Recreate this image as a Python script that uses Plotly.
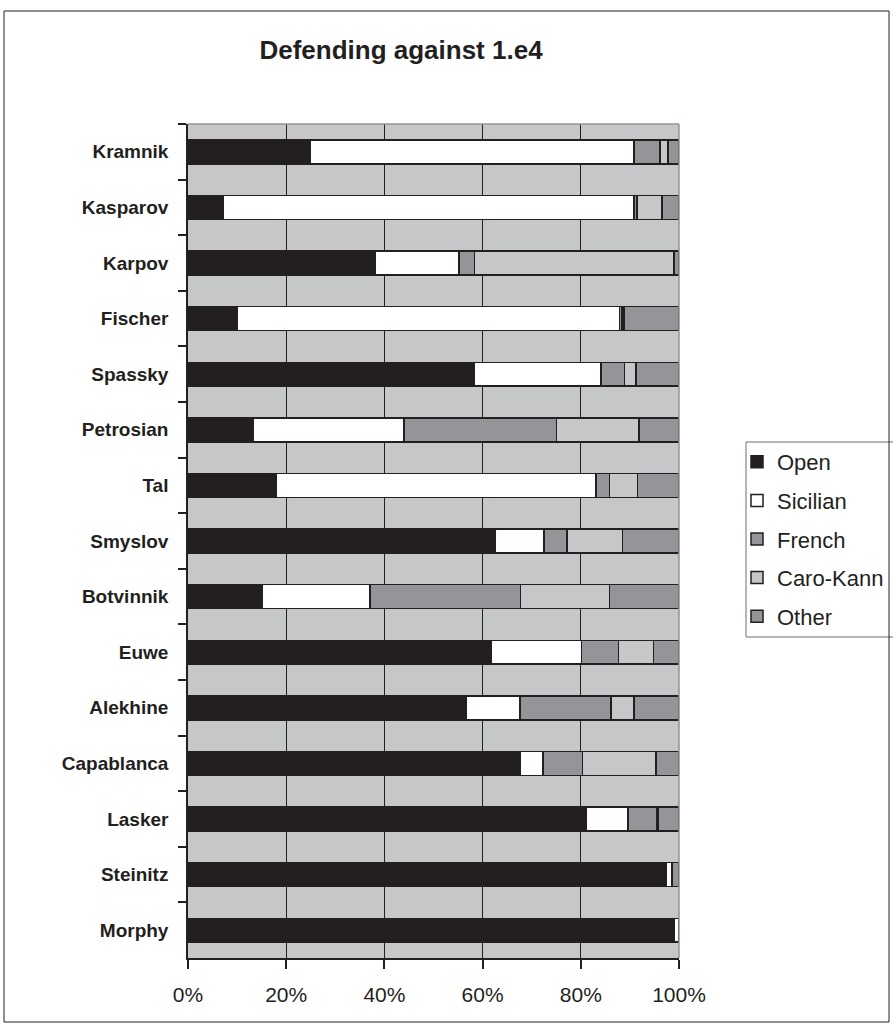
import plotly.graph_objects as go

players = ["Kramnik", "Kasparov", "Karpov", "Fischer", "Spassky", "Petrosian", "Tal",
           "Smyslov", "Botvinnik", "Euwe", "Alekhine", "Capablanca", "Lasker", "Steinitz", "Morphy"]

open_pct =     [24.8, 7.1, 38.1, 10.1, 58.4, 13.2, 17.9, 62.6, 15.2, 61.8, 56.6, 67.6, 81.1, 97.5, 99.1]
sicilian_pct = [66.0, 83.7, 17.1, 77.8, 25.7, 30.8, 65.2, 9.9, 21.9, 18.3, 11.0, 4.7, 8.5, 1.1, 0.9]
french_pct =   [5.3, 0.6, 3.1, 0.5, 4.8, 31.0, 2.7, 4.7, 30.6, 7.6, 18.6, 8.0, 5.8, 0.0, 0.0]
caro_pct =     [1.7, 5.1, 40.7, 0.4, 2.3, 16.9, 5.7, 11.3, 18.1, 7.1, 4.6, 15.0, 0.3, 0.0, 0.0]
other_pct =    [2.2, 3.5, 1.0, 11.2, 8.8, 8.1, 8.5, 11.5, 14.2, 5.2, 9.2, 4.7, 4.3, 1.4, 0.0]

series = [
    ("Open", open_pct, "#231F20"),
    ("Sicilian", sicilian_pct, "#FFFFFF"),
    ("French", french_pct, "#939598"),
    ("Caro-Kann", caro_pct, "#C6C7C9"),
    ("Other", other_pct, "#939598"),
]

W, H = 893, 1028
L, R, T, B = 188, 679, 124, 958

def px(x):
    return (x - L) / (R - L)

def py(y):
    return (B - y) / (B - T)

fig = go.Figure()
for name, vals, col in series:
    fig.add_trace(go.Bar(
        y=players, x=vals, name=name, orientation="h",
        marker=dict(color=col, line=dict(color="#231F20", width=1.5)),
        legendgroup=name,
    ))

fig.update_layout(
    width=W, height=H,
    margin=dict(l=L, r=W - R, t=T, b=H - B, pad=0, autoexpand=False),
    barmode="stack", barnorm="percent", bargap=0.57,
    plot_bgcolor="#C6C7C9", paper_bgcolor="white",
    font=dict(family="Liberation Sans, Arial, sans-serif", color="#231F20"),
    title=dict(text="<b>Defending against 1.e4</b>", x=401 / W, xref="container",
               y=1 - 50 / H, yref="container", xanchor="center", yanchor="middle",
               font=dict(size=26, color="#231F20")),
    legend=dict(x=px(737), y=py(441), xanchor="left", yanchor="top",
                borderwidth=0, bgcolor="rgba(0,0,0,0)",
                font=dict(size=22, color="#231F20"), tracegroupgap=7,
                traceorder="grouped", itemclick=False),
    showlegend=True,
)

fig.update_xaxes(
    range=[0, 100], tickvals=[0, 20, 40, 60, 80, 100],
    ticktext=["0%", "20%", "40%", "60%", "80%", "100%"],
    showgrid=True, gridcolor="#231F20", gridwidth=1,
    showline=True, linecolor="#231F20", linewidth=1.5,
    ticks="outside", ticklen=9, tickcolor="#231F20", tickwidth=1.5,
    tickfont=dict(size=21, color="#231F20"), ticklabelstandoff=8,
    zeroline=False, fixedrange=True,
)
fig.update_yaxes(
    categoryorder="array", categoryarray=players, autorange="reversed",
    showline=True, linecolor="#231F20", linewidth=1.5,
    ticks="outside", ticklen=8, tickcolor="#231F20", tickwidth=1.5,
    tickson="boundaries", showgrid=False,
    tickfont=dict(size=19, color="#231F20", weight="bold"), ticklabelstandoff=14,
    fixedrange=True,
)

# plot-area top/right edge (gray), legend frame and outer chart frame
fig.add_shape(type="line", xref="paper", yref="paper", x0=0, x1=1, y0=1, y1=1,
              line=dict(color="#939598", width=1.5))
fig.add_shape(type="line", xref="paper", yref="paper", x0=1, x1=1, y0=0, y1=1,
              line=dict(color="#939598", width=1.5))
fig.add_shape(type="rect", xref="paper", yref="paper",
              x0=px(746), x1=px(905), y0=py(637), y1=py(442),
              line=dict(color="#6D6E71", width=1), fillcolor="white", layer="below")
fig.add_shape(type="rect", xref="paper", yref="paper",
              x0=px(4), x1=px(889), y0=py(1022), y1=py(11),
              line=dict(color="#231F20", width=1), fillcolor="rgba(0,0,0,0)", layer="below")

fig.write_html("out.html")
